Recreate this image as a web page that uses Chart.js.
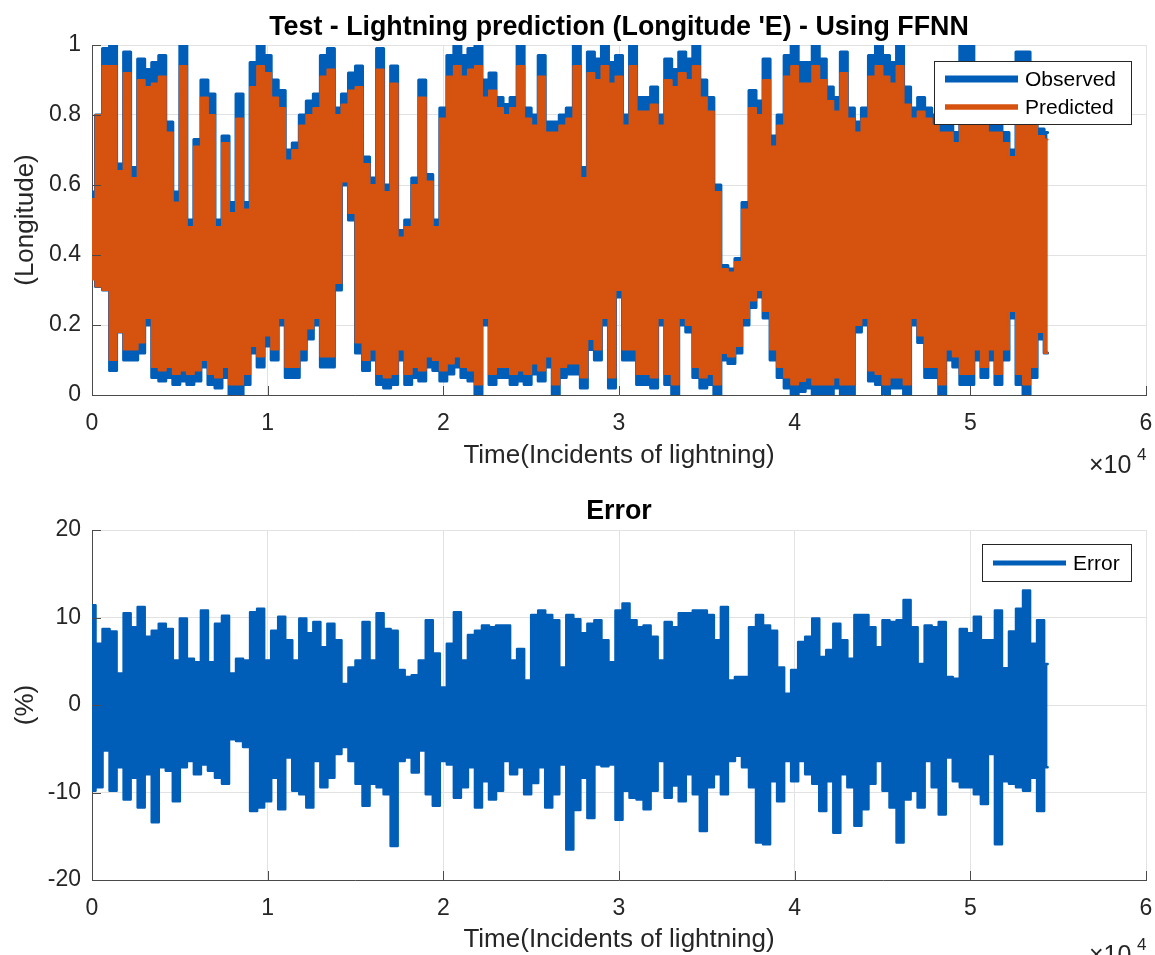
<!DOCTYPE html>
<html>
<head>
<meta charset="utf-8">
<script src="https://cdn.jsdelivr.net/npm/chart.js@4.4.1/dist/chart.umd.min.js"></script>
<style>
  html, body { margin: 0; padding: 0; background: #fff; }
  #wrap { position: relative; width: 1155px; height: 955px; overflow: hidden; }
  canvas { position: absolute; left: 0; }
  #top-chart { top: 0; }
  #error-chart { top: 478px; }
</style>
</head>
<body>
<div id="wrap">
  <canvas id="top-chart" width="1155" height="478"></canvas>
  <canvas id="error-chart" width="1155" height="477"></canvas>
</div>
<script>
// one block every 400 incidents; the signal swings between an upper and a lower value in each block
const sampleStep = 400;

const obsUpper = [
  .58,.80,.99,1.0,.66,.98,.65,.96,.93,.95, .97,.78,.58,1.0,.50,.73,.90,.86,.50,.74,
  .55,.86,.55,.95,1.0,.97,.90,.87,.70,.72, .80,.84,.86,.97,.99,.82,.86,.92,.94,.68,
  .62,.99,.60,.94,.47,.50,.62,.90,.63,.50, .82,.97,1.0,.97,.99,1.0,.90,.92,.85,.83,
  .85,1.0,.82,.80,.97,.78,.78,.80,.82,1.0, .65,.98,.96,1.0,.95,.97,.80,1.0,.85,.85,
  .88,.80,.96,.93,.98,.96,1.0,.90,.85,.60, .37,.36,.39,.55,.87,.84,.96,.74,.80,.97,
  1.0,.95,.95,1.0,.96,.88,.85,.98,.82,.78, .82,.97,1.0,.97,.95,1.0,.88,.82,.85,.82,
  .80,.78,.78,.75,1.0,1.0,.85,.80,.78,.78, .75,.70,.98,.98,.90,.76,.75
];
const obsLower = [
  .36,.31,.30,.07,.18,.10,.10,.12,.20,.05, .04,.05,.03,.04,.03,.04,.08,.03,.02,.05,
  .00,.00,.03,.12,.08,.14,.10,.20,.05,.05, .10,.16,.20,.08,.08,.30,.60,.50,.12,.07,
  .10,.03,.02,.03,.10,.03,.05,.04,.08,.07, .04,.06,.08,.05,.04,.00,.20,.03,.05,.05,
  .03,.04,.03,.06,.04,.08,.00,.05,.06,.06, .02,.13,.10,.20,.02,.28,.10,.10,.03,.03,
  .02,.20,.03,.00,.20,.18,.05,.02,.03,.00, .10,.09,.12,.20,.25,.28,.22,.10,.05,.02,
  .00,.01,.02,.00,.00,.00,.02,.00,.00,.18, .20,.04,.03,.00,.02,.02,.00,.20,.15,.05,
  .05,.00,.10,.08,.03,.03,.10,.05,.10,.03, .10,.22,.03,.00,.05,.16,.12
];
const predUpper = [
  .56,.80,.94,.94,.64,.92,.62,.90,.88,.89, .91,.75,.55,.94,.48,.71,.85,.80,.48,.72,
  .52,.79,.53,.88,.94,.92,.85,.82,.67,.70, .77,.80,.82,.91,.93,.80,.83,.87,.88,.66,
  .60,.93,.58,.89,.45,.48,.60,.85,.61,.48, .79,.91,.94,.91,.93,.94,.85,.87,.82,.80,
  .82,.94,.79,.77,.91,.75,.75,.77,.79,.94, .62,.92,.90,.94,.89,.91,.77,.94,.81,.81,
  .83,.77,.90,.88,.92,.90,.94,.85,.81,.58, .36,.35,.38,.53,.82,.80,.90,.71,.77,.91,
  .94,.89,.89,.94,.90,.84,.81,.92,.79,.75, .79,.91,.94,.91,.89,.94,.83,.79,.81,.79,
  .77,.75,.75,.72,.94,.94,.81,.77,.75,.75, .72,.68,.92,.92,.85,.74,.73
];
const predLower = [
  .33,.31,.30,.10,.18,.13,.13,.15,.22,.08, .07,.08,.06,.07,.06,.07,.10,.06,.05,.08,
  .03,.03,.06,.14,.11,.17,.13,.22,.08,.08, .13,.19,.22,.11,.11,.32,.61,.52,.15,.10,
  .13,.06,.05,.06,.13,.06,.08,.07,.11,.10, .07,.09,.11,.08,.07,.03,.22,.06,.08,.08,
  .06,.07,.06,.09,.07,.11,.03,.08,.09,.09, .05,.16,.13,.22,.05,.30,.13,.13,.06,.06,
  .05,.22,.06,.03,.22,.20,.08,.05,.06,.03, .12,.11,.14,.22,.27,.30,.24,.13,.08,.05,
  .03,.04,.05,.03,.03,.03,.05,.03,.03,.20, .22,.07,.06,.03,.05,.05,.03,.22,.17,.08,
  .08,.03,.13,.11,.06,.06,.13,.08,.13,.06, .13,.24,.06,.03,.08,.18,.12
];
const errUpper = [
  11.4,7.0,8.7,8.4,3.6,10.5,8.9,11.2,7.8,8.5, 9.3,8.7,5.1,9.9,5.3,4.9,10.8,4.9,9.3,10.2,
  3.6,5.3,5.1,10.6,11.0,5.1,8.5,10.1,7.4,5.1, 9.9,8.2,9.5,6.6,9.3,7.4,2.4,4.3,5.1,9.5,
  5.1,10.5,8.7,8.5,4.0,3.2,3.4,5.1,9.7,5.9, 2.0,7.0,10.6,5.1,8.0,8.5,9.1,8.9,9.1,9.1,
  5.1,6.4,2.8,10.3,10.8,10.3,9.7,4.3,10.3,9.8, 8.2,9.3,9.7,7.4,4.9,10.8,11.6,9.7,8.9,9.1,
  7.8,5.1,9.5,8.9,10.5,10.5,10.8,10.8,10.3,7.4, 11.2,2.8,3.2,3.2,8.9,10.3,9.1,8.5,4.3,1.3,
  4.0,7.2,7.8,9.9,5.5,6.3,9.3,7.4,5.3,10.3, 10.3,8.9,6.6,9.7,9.5,9.7,12.0,8.9,4.7,9.1,
  8.9,9.5,3.2,3.0,8.7,8.2,10.1,7.4,7.4,10.8, 4.2,8.4,11.0,13.1,7.0,9.7,4.7
];
const errLower = [
  -9.8,-9.4,-5.2,-9.8,-7.1,-10.8,-8.3,-11.7,-7.9,-13.4, -7.1,-7.5,-11.0,-7.1,-6.4,-7.9,-6.8,-7.5,-8.3,-9.0,
  -3.9,-4.1,-4.8,-12.1,-11.7,-11.0,-8.3,-11.9,-6.0,-9.8, -10.2,-11.7,-6.4,-9.4,-8.3,-5.6,-4.8,-6.4,-9.0,-11.5,
  -9.0,-9.4,-10.2,-16.1,-6.4,-6.0,-7.7,-5.2,-10.2,-11.5, -6.4,-6.8,-10.6,-9.4,-7.1,-11.7,-8.7,-10.8,-9.8,-6.4,
  -7.9,-7.1,-10.2,-8.9,-7.1,-11.7,-10.2,-6.8,-16.5,-12.0, -8.3,-12.9,-6.8,-7.0,-6.8,-13.1,-9.8,-10.6,-10.8,-11.9,
  -9.8,-6.4,-10.6,-9.2,-11.0,-7.9,-10.2,-14.4,-9.4,-7.9, -10.2,-6.4,-5.8,-7.1,-9.4,-15.7,-15.9,-8.7,-11.0,-6.4,
  -8.7,-6.4,-7.9,-9.0,-12.1,-8.7,-14.6,-7.9,-9.4,-13.8, -11.9,-9.0,-6.4,-9.8,-11.7,-15.7,-10.8,-9.8,-11.7,-6.4,
  -9.4,-12.5,-6.0,-8.7,-9.4,-9.4,-10.2,-11.3,-5.6,-15.9, -8.7,-9.0,-9.4,-9.8,-8.3,-12.1,-7.1
];

const FONT = '"Liberation Sans", Arial, Helvetica, sans-serif';
const BLUE = '#005eb8';
const ORANGE = '#d6520f';

Chart.defaults.font.family = FONT;
Chart.defaults.color = '#262626';

function toPoints(values) {
    return values.map((v, i) => ({ x: i * sampleStep, y: v }));
}

// titles, x10^4 note, inward ticks and the boxed legend, matlab style
const matlabDecor = {
    id: "matlabDecor",
    afterDraw(chart, args, opts) {
        const { ctx, chartArea: a } = chart;
        const xs = chart.scales.x;
        const ys = chart.scales.y;
        ctx.save();

        ctx.strokeStyle = "#4a4a4a";
        ctx.lineWidth = 1;
        ctx.beginPath();
        xs.ticks.forEach((t) => {
            const px = Math.round(xs.getPixelForValue(t.value)) + 0.5;
            ctx.moveTo(px, a.bottom);
            ctx.lineTo(px, a.bottom - 9);
        });
        ys.ticks.forEach((t) => {
            const py = Math.round(ys.getPixelForValue(t.value)) + 0.5;
            ctx.moveTo(a.left, py);
            ctx.lineTo(a.left + 9, py);
        });
        ctx.stroke();

        ctx.fillStyle = "#000";
        ctx.textBaseline = "alphabetic";
        ctx.textAlign = "center";
        ctx.font = "bold 26.8px " + FONT;
        ctx.fillText(opts.title, (a.left + a.right) / 2, opts.titleBase);

        ctx.fillStyle = "#262626";
        ctx.textAlign = "left";
        ctx.font = "25px " + FONT;
        ctx.fillText("\u00d710", 1089, opts.expBase);
        ctx.font = "17px " + FONT;
        ctx.fillText("4", 1137, opts.expBase - 13);

        const lg = opts.legend;
        ctx.fillStyle = "#fff";
        ctx.fillRect(lg.x, lg.y, lg.w, lg.h);
        ctx.strokeStyle = "#262626";
        ctx.lineWidth = 1;
        ctx.strokeRect(lg.x + 0.5, lg.y + 0.5, lg.w, lg.h);
        chart.data.datasets.filter((ds) => ds.inLegend).forEach((ds, i) => {
            const yy = lg.y + lg.first + i * lg.gap;
            ctx.strokeStyle = ds.borderColor;
            ctx.lineWidth = ds.legendWidth;
            ctx.beginPath();
            ctx.moveTo(lg.x + 11, yy);
            ctx.lineTo(lg.x + 84, yy);
            ctx.stroke();
            ctx.fillStyle = "#000";
            ctx.font = "21px " + FONT;
            ctx.textBaseline = "middle";
            ctx.fillText(ds.label, lg.x + 91, yy + 1);
        });
        ctx.restore();
    }
};

// upper swing of a series, filled down to the lower swing drawn right after it
function upperSet(label, values, color, width, order, legendWidth) {
    return {
        label: label,
        inLegend: true,
        legendWidth: legendWidth,
        data: toPoints(values),
        borderColor: color,
        backgroundColor: color,
        borderWidth: width,
        borderJoinStyle: "round",
        borderCapStyle: "round",
        pointRadius: 0,
        stepped: "middle",
        fill: "+1",
        order: order
    };
}

function lowerSet(label, values, color, width, order) {
    return {
        label: label,
        data: toPoints(values),
        borderColor: color,
        backgroundColor: color,
        borderWidth: width,
        borderJoinStyle: "round",
        borderCapStyle: "round",
        pointRadius: 0,
        stepped: "middle",
        fill: false,
        order: order
    };
}

function makeScales(yMin, yMax, yStep, yTitle, yFmt, xAxisHeight, xTitlePad) {
    return {
        x: {
            type: "linear",
            min: 0,
            max: 60000,
            afterFit: (s) => {
                s.height = xAxisHeight;
                s.paddingLeft = 0;
                s.paddingRight = 0;
            },
            ticks: {
                stepSize: 10000,
                padding: 15,
                maxRotation: 0,
                font: { size: 23 },
                color: "#262626",
                callback: (v) => String(v / 10000)
            },
            grid: { color: "#e2e2e2", drawTicks: false },
            border: { color: "#4a4a4a" },
            title: {
                display: true,
                text: "Time(Incidents of lightning)",
                font: { size: 26 },
                color: "#262626",
                padding: { top: 0, bottom: xTitlePad }
            }
        },
        y: {
            min: yMin,
            max: yMax,
            afterFit: (s) => {
                s.width = 92;
                s.paddingTop = 0;
                s.paddingBottom = 0;
            },
            ticks: {
                stepSize: yStep,
                padding: 11,
                font: { size: 23 },
                color: "#262626",
                callback: yFmt
            },
            grid: { color: "#e2e2e2", drawTicks: false },
            border: { color: "#4a4a4a" },
            title: {
                display: true,
                text: yTitle,
                font: { size: 26 },
                color: "#262626",
                padding: { top: 10, bottom: 0 }
            }
        }
    };
}

new Chart(document.getElementById("top-chart"), {
    type: "line",
    data: {
        datasets: [
            upperSet("Observed", obsUpper, BLUE, 3, 4, 7),
            lowerSet("Observed (low)", obsLower, BLUE, 3, 3),
            upperSet("Predicted", predUpper, ORANGE, 2, 2, 5.5),
            lowerSet("Predicted (low)", predLower, ORANGE, 2, 1)
        ]
    },
    options: {
        responsive: false,
        animation: false,
        events: [],
        devicePixelRatio: 1,
        layout: { padding: { top: 45, right: 9, left: 0, bottom: 0 } },
        scales: makeScales(0, 1, 0.2, "(Longitude)", (v) => String(+v.toFixed(1)), 83, 7),
        plugins: {
            legend: { display: false },
            tooltip: { enabled: false },
            matlabDecor: {
                title: "Test - Lightning prediction (Longitude 'E) - Using FFNN",
                titleBase: 35,
                expBase: 473,
                legend: { x: 934, y: 61, w: 197, h: 63, first: 18, gap: 28 }
            }
        }
    },
    plugins: [matlabDecor]
});

new Chart(document.getElementById("error-chart"), {
    type: "line",
    data: {
        datasets: [
            upperSet("Error", errUpper, BLUE, 2.5, 2, 5),
            lowerSet("Error (low)", errLower, BLUE, 2.5, 1)
        ]
    },
    options: {
        responsive: false,
        animation: false,
        events: [],
        devicePixelRatio: 1,
        layout: { padding: { top: 52, right: 9, left: 0, bottom: 0 } },
        scales: makeScales(-20, 20, 10, "(%)", (v) => String(v), 75, 0),
        plugins: {
            legend: { display: false },
            tooltip: { enabled: false },
            matlabDecor: {
                title: "Error",
                titleBase: 41,
                expBase: 485,
                legend: { x: 982, y: 66, w: 149, h: 37, first: 19, gap: 0 }
            }
        }
    },
    plugins: [matlabDecor]
});
</script>
</body>
</html>
